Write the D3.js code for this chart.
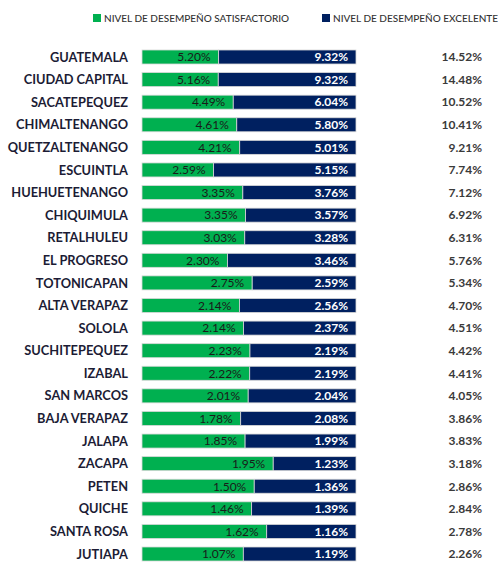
<!DOCTYPE html>
<html><head><meta charset="utf-8">
<script src="https://cdn.jsdelivr.net/npm/d3@7"></script>
<style>body{margin:0;background:#fff;}svg{display:block;font-family:Lato,"Open Sans",sans-serif;}</style>
</head><body><svg id="c" width="498" height="562"></svg>
<script>
const categories = ["GUATEMALA","CIUDAD CAPITAL","SACATEPEQUEZ","CHIMALTENANGO","QUETZALTENANGO","ESCUINTLA","HUEHUETENANGO","CHIQUIMULA","RETALHULEU","EL PROGRESO","TOTONICAPAN","ALTA VERAPAZ","SOLOLA","SUCHITEPEQUEZ","IZABAL","SAN MARCOS","BAJA VERAPAZ","JALAPA","ZACAPA","PETEN","QUICHE","SANTA ROSA","JUTIAPA"];
const satisfactorio = [5.20,5.16,4.49,4.61,4.21,2.59,3.35,3.35,3.03,2.30,2.75,2.14,2.14,2.23,2.22,2.01,1.78,1.85,1.95,1.50,1.46,1.62,1.07];
const excelente = [9.32,9.32,6.04,5.80,5.01,5.15,3.76,3.57,3.28,3.46,2.59,2.56,2.37,2.19,2.19,2.04,2.08,1.99,1.23,1.36,1.39,1.16,1.19];
const totales = [14.52,14.48,10.52,10.41,9.21,7.74,7.12,6.92,6.31,5.76,5.34,4.70,4.51,4.42,4.41,4.05,3.86,3.83,3.18,2.86,2.84,2.78,2.26];
const seriesNames = ["NIVEL DE DESEMPEÑO SATISFACTORIO","NIVEL DE DESEMPEÑO EXCELENTE"];
const colors = ["#00B050","#002060"];

const svg = d3.select("#c");
const rows = categories.map((c,i)=>({cat:c, s:satisfactorio[i], e:excelente[i], t:totales[i]}));

const y = d3.scaleBand().domain(categories).range([45.7,565.3]).paddingInner(0.38).paddingOuter(0.19);
const x = d3.scaleLinear().domain([0,1]).range([142,356]);
const fmt = v => v.toFixed(2) + "%";

// legend
const leg = svg.append("g");
const legX = [93,322];
seriesNames.forEach((n,i)=>{
  leg.append("rect").attr("x",legX[i]).attr("y",14).attr("width",8).attr("height",8).attr("fill",colors[i]);
  leg.append("text").attr("x",legX[i]+11).attr("y",21.5).attr("font-size",10).attr("font-weight",500)
    .attr("fill","#333333").text(n);
});

const g = svg.append("g");
rows.forEach(d=>{
  const tot = d.s + d.e;
  const y0 = y(d.cat), h = y.bandwidth();
  const xs = x(d.s/tot);
  g.append("rect").attr("x",x(0)).attr("y",y0).attr("width",xs-x(0)).attr("height",h)
    .attr("fill",colors[0]).attr("stroke","#d9d9d9").attr("stroke-width",0.8);
  g.append("rect").attr("x",xs).attr("y",y0).attr("width",x(1)-xs).attr("height",h)
    .attr("fill",colors[1]).attr("stroke","#d9d9d9").attr("stroke-width",0.8);
  const cy = y0 + h/2 + 4.3;
  g.append("text").attr("x",xs-8).attr("y",cy).attr("text-anchor","end").attr("font-size",12)
    .attr("fill","#1a1a1a").text(fmt(d.s));
  g.append("text").attr("x",x(1)-8).attr("y",cy).attr("text-anchor","end").attr("font-size",12)
    .attr("font-weight","bold").attr("fill","#ffffff").text(fmt(d.e));
  g.append("text").attr("x",128).attr("y",cy+0.3).attr("text-anchor","end").attr("font-size",12.8)
    .attr("font-weight","bold").attr("fill","#1c1c35").text(d.cat);
  g.append("text").attr("x",482).attr("y",cy).attr("text-anchor","end").attr("font-size",12)
    .attr("font-weight","bold").attr("fill","#3a3a3a").text(fmt(d.t));
});
</script></body></html>
